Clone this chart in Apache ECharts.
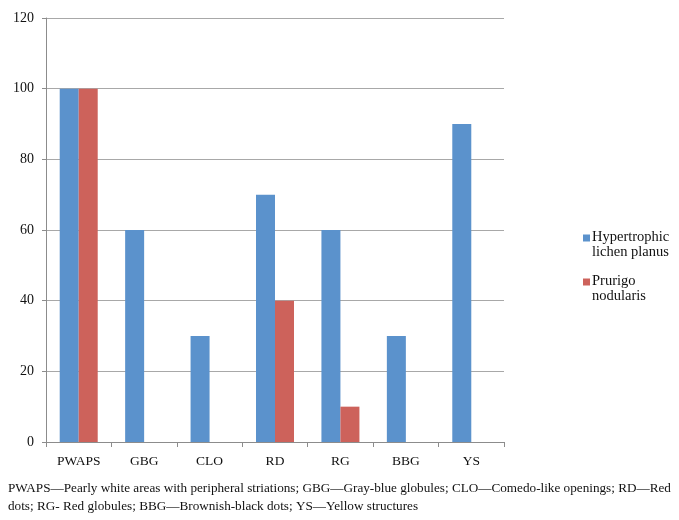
<!DOCTYPE html>
<html>
<head>
<meta charset="utf-8">
<script src="https://cdn.jsdelivr.net/npm/echarts@6/dist/echarts.min.js"></script>
<style>
  html, body { margin: 0; padding: 0; background: #fff; }
  #chart { width: 679px; height: 520px; }
</style>
</head>
<body>
<div id="chart"></div>
<script>
const categories = ['PWAPS', 'GBG', 'CLO', 'RD', 'RG', 'BBG', 'YS']
const hypertrophic = [100, 60, 30, 70, 60, 30, 90]
const prurigo = [100, 0, 0, 40, 10, 0, 0]
const yTicks = { min: 0, max: 120, interval: 20 }
const caption = 'PWAPS\u2014Pearly white areas with peripheral striations; GBG\u2014Gray-blue globules; CLO\u2014Comedo-like openings; RD\u2014Red\ndots; RG- Red globules; BBG\u2014Brownish-black dots; YS\u2014Yellow structures'

const serif = '"Liberation Serif", "DejaVu Serif", serif'
// square at the top of a taller box so it lines up with the first text line
const legendIcon = 'path://M0,0H7V7H0Z M0,21L0,21'

const chart = echarts.init(document.getElementById('chart'))
chart.setOption({
  animation: false,
  textStyle: { fontFamily: serif },
  grid: { left: 46, right: 175, top: 18, bottom: 78 },
  legend: {
    orient: 'vertical',
    left: 578,
    top: 225,
    itemWidth: 7,
    itemHeight: 21,
    itemGap: 14,
    icon: legendIcon,
    formatter: name => name.replace('Hypertrophic ', 'Hypertrophic\n').replace('Prurigo ', 'Prurigo\n'),
    textStyle: { fontFamily: serif, fontSize: 14.5, lineHeight: 15, color: '#111', padding: [0, 0, 0, -3] }
  },
  xAxis: {
    type: 'category',
    data: categories,
    axisLine: { lineStyle: { color: '#8c8c8c' } },
    axisTick: { show: true, length: 5, lineStyle: { color: '#8c8c8c' } },
    axisLabel: { margin: 12, fontSize: 13.5, color: '#111', fontFamily: serif }
  },
  yAxis: {
    type: 'value',
    min: yTicks.min,
    max: yTicks.max,
    interval: yTicks.interval,
    axisLine: { show: true, lineStyle: { color: '#8c8c8c' } },
    axisTick: { show: true, length: 4, lineStyle: { color: '#8c8c8c' } },
    axisLabel: { margin: 12, fontSize: 14, color: '#111', fontFamily: serif },
    splitLine: { lineStyle: { color: '#a8a8a8' } }
  },
  series: [
    {
      name: 'Hypertrophic lichen planus',
      type: 'bar',
      data: hypertrophic,
      barWidth: 19,
      barGap: '0%',
      itemStyle: { color: '#5b92cc' }
    },
    {
      name: 'Prurigo nodularis',
      type: 'bar',
      data: prurigo,
      barWidth: 19,
      barGap: '0%',
      itemStyle: { color: '#cd625b' }
    }
  ],
  graphic: [
    {
      type: 'text',
      left: 8,
      top: 480,
      style: {
        text: caption,
        font: '13.2px ' + serif,
        lineHeight: 18,
        fill: '#111'
      }
    }
  ]
})
</script>
</body>
</html>
